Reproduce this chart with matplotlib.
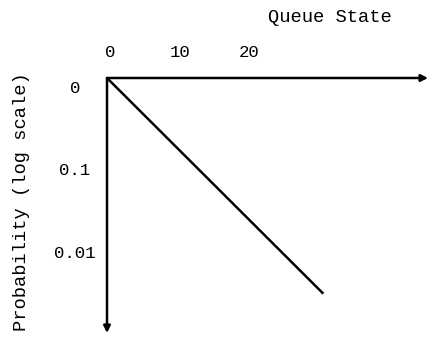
import matplotlib.pyplot as plt
from matplotlib.transforms import ScaledTranslation

# queue state vs probability (geometric tail, straight on log scale)
queue_state = [0, 31]
probability = [1.0, 0.0024]

x_ticks = [0, 10, 20]
x_tick_labels = ["0", "10", "20"]
y_ticks = [1.0, 0.1, 0.01]
y_tick_labels = ["0", "0.1", "0.01"]

plt.rcParams["font.family"] = ["Liberation Mono", "DejaVu Sans Mono"]

W, H = 428, 337
fig = plt.figure(figsize=(W / 100, H / 100), dpi=100)
ox, oy = 107, 78
ax = fig.add_axes([ox / W, 1 - 333 / H, 1 - ox / W, (333 - oy) / H])

ax.plot(queue_state, probability, color="black", lw=1.8, solid_capstyle="butt")
ax.set_yscale("log")
ax.set_xlim(0, 46)
ax.set_ylim(8e-4, 1.0)

for s in ax.spines.values():
    s.set_visible(False)

# axes drawn as arrows from the origin
arrow = dict(arrowstyle="-|>", color="black", lw=1.8, mutation_scale=10,
             shrinkA=0, shrinkB=0)
ax.annotate("", xy=(1.0, 1.0), xytext=(0, 1.0), xycoords="axes fraction",
            arrowprops=arrow, annotation_clip=False)
ax.annotate("", xy=(0, 0), xytext=(0, 1.0), xycoords="axes fraction",
            arrowprops=arrow, annotation_clip=False)

ax.xaxis.tick_top()
ax.set_xticks(x_ticks)
ax.set_xticklabels(x_tick_labels, fontsize=12.5)
ax.tick_params(axis="x", length=0, pad=13)
for lab in ax.get_xticklabels():
    lab.set_transform(lab.get_transform() + ScaledTranslation(3 / 100, 0, fig.dpi_scale_trans))

ax.set_yticks(y_ticks)
ax.set_yticklabels(y_tick_labels, fontsize=12.5)
ax.yaxis.set_minor_locator(plt.NullLocator())
ax.tick_params(axis="y", length=0, pad=23)
for lab in ax.get_yticklabels():
    lab.set_horizontalalignment("center")
    lab.set_transform(lab.get_transform() + ScaledTranslation(0, -9 / 100, fig.dpi_scale_trans))

fig.text(330 / W, 1 - 18 / H, "Queue State", fontsize=13.5, ha="center", va="center")
fig.text(22 / W, 1 - 202 / H, "Probability (log scale)", fontsize=13.5,
         ha="center", va="center", rotation=90)

fig.savefig("out.png", dpi=100)
